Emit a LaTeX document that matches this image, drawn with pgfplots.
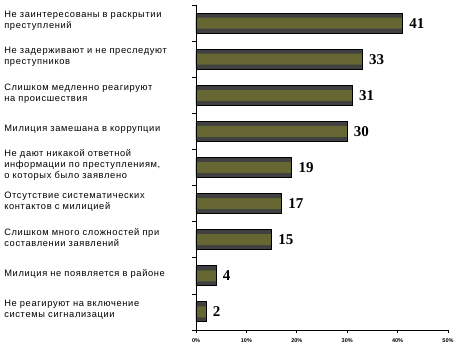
\documentclass[border=0pt]{standalone}
\usepackage{fontspec}
\usepackage{pgfplots}
\pgfplotsset{compat=1.18}
\setmainfont{Liberation Sans}
\newfontfamily\lab[LetterSpace=7]{Liberation Sans}
\newfontfamily\valfont{Liberation Serif}
\definecolor{barolive}{HTML}{666633}
\definecolor{bardark}{HTML}{404040}
\pgfplotstableread{
val pos
41 0
33 1
31 2
30 3
19 4
17 5
15 6
4 7
2 8
}\data
\begin{document}
\begin{tikzpicture}
\begin{axis}[
  name=ax,
  scale only axis,
  width=252pt, height=325pt,
  xmin=0, xmax=50,
  ymin=-0.5, ymax=8.5,
  y dir=reverse,
  axis lines*=left,
  axis line style={black, line width=0.8pt},
  xtick={0,10,20,30,40,50},
  xticklabels={0\%,10\%,20\%,30\%,40\%,50\%},
  xticklabel style={font=\fontsize{5.5}{6}\selectfont\bfseries, yshift=-2pt},
  ytick={0,...,8},
  yticklabels={
    {Не заинтересованы в раскрытии\\преступлений},
    {Не задерживают и не преследуют\\преступников},
    {Слишком медленно реагируют\\на происшествия},
    {Милиция замешана в коррупции},
    {Не дают никакой ответной\\информации по преступлениям,\\о которых было заявлено},
    {Отсутствие систематических\\контактов с милицией},
    {Слишком много сложностей при\\составлении заявлений},
    {Милиция не появляется в районе},
    {Не реагируют на включение\\системы сигнализации}},
  yticklabel style={font=\fontsize{9.3}{11}\selectfont\lab, text width=188pt, align=left, anchor=east, inner sep=0pt, yshift=2pt},
  major tick length=3.5pt,
  minor ytick={-0.5,0.5,...,8.5},
  minor tick length=3.5pt,
  tick align=outside,
  every major y tick/.append style={draw=none},
  every major x tick/.append style={black, line width=0.6pt},
  every minor y tick/.append style={black, line width=0.6pt},
  clip=false,
]
\addplot[xbar, bar width=20pt, bar shift=0pt, fill=bardark, draw=none] table[x=val, y=pos] {\data};
\addplot[xbar, bar width=11pt, bar shift=0pt, fill=barolive, draw=none] table[x=val, y=pos] {\data};
\addplot[xbar, bar width=20pt, bar shift=0pt, fill=none, draw=black, line width=0.9pt,
  nodes near coords={\textbf{\pgfmathprintnumber[assume math mode=true]{\pgfplotspointmeta}}},
  every node near coord/.append style={anchor=west, xshift=3pt, font=\fontsize{15}{15}\selectfont\valfont\bfseries, text=black}
  ] table[x=val, y=pos] {\data};
\end{axis}
\pgfresetboundingbox
\path ([shift={(-196pt,-23pt)}]ax.south west) rectangle ([shift={(12pt,5pt)}]ax.north east);
\end{tikzpicture}
\end{document}
